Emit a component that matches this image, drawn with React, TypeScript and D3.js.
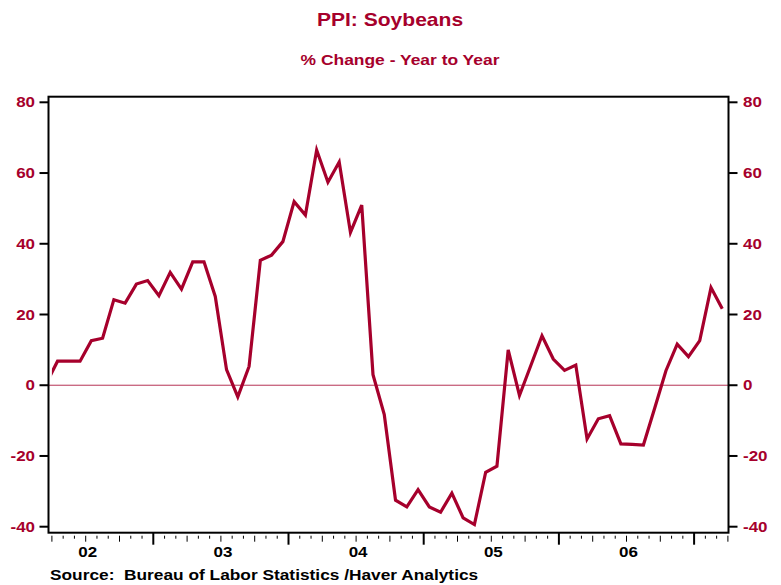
import React from "react";
import * as d3 from "d3";

// Monthly % change year to year, starting March 2002 (index 0) through March 2007
const startYear = 2002;
const startMonth = 2; // March (0-based)
const values = [
  0.5, 6.8, 6.8, 6.8, 12.6, 13.3, 24.2, 23.2, 28.6, 29.6,
  25.3, 31.9, 27.2, 34.9, 34.9, 25.1, 4.4, -3.3, 5.3, 35.3, 36.8, 40.6,
  51.9, 48.1, 66.5, 57.4, 63.1, 43.2, 50.9, 3.0, -8.3, -32.5, -34.4, -29.5,
  -34.4, -35.9, -30.5, -37.5, -39.4, -24.6, -22.9, 10.0, -2.9, 5.5, 14.0, 7.4,
  4.2, 5.7, -15.2, -9.5, -8.6, -16.6, -16.7, -16.9, -6.5, 4.1, 11.6, 8.1,
  12.6, 27.6, 21.6,
];
const yTicks = [-40, -20, 0, 20, 40, 60, 80];
const yearLabels = ["02", "03", "04", "05", "06"];
const title = "PPI: Soybeans";
const subtitle = "% Change - Year to Year";
const source = "Source:  Bureau of Labor Statistics /Haver Analytics";

const RED = "#a6002c";
const SX = 1.17;
const FONT = "'Liberation Sans', Arial, Helvetica, sans-serif";

function T({ x, y, anchor = "start", size = 15, fill = RED, children }: any) {
  return (
    <g transform={`translate(${x},${y}) scale(${SX},1)`}>
      <text
        textAnchor={anchor}
        fontSize={size}
        fontWeight="bold"
        fontFamily={FONT}
        fill={fill}
        style={{ whiteSpace: "pre" }}
      >
        {children}
      </text>
    </g>
  );
}

export default function App() {
  const W = 781;
  const H = 585;
  const frameL = 48.5;
  const frameR = 728.5;
  const frameT = 96.7;
  const frameB = 532.7;

  // months since Jan 2002
  const x = d3.scaleLinear().domain([3, 63]).range([51.9, 727.9]);
  const y = d3.scaleLinear().domain([-40, 80]).range([526.7, 102.3]);

  const pts = values.map((v, i) => ({
    m: (startYear - 2002) * 12 + startMonth + i + 0.5,
    v,
  }));
  const line = d3
    .line<{ m: number; v: number }>()
    .x((d) => x(d.m))
    .y((d) => y(d.v));

  const monthTicks = d3.range(3, 64);

  return (
    <div style={{ position: "absolute", left: 0, top: 0 }}>
      <svg width={W} height={H} style={{ display: "block", background: "#fff" }}>
        <defs>
          <clipPath id="plotclip">
            <rect x={x(3)} y={frameT} width={frameR - x(3)} height={frameB - frameT} />
          </clipPath>
        </defs>

        <T x={390} y={26} anchor="middle" size={18}>{title}</T>
        <T x={400} y={65} anchor="middle" size={14.9}>{subtitle}</T>

        {/* zero line */}
        <line x1={frameL} x2={frameR} y1={y(0)} y2={y(0)} stroke={RED} strokeWidth={1} opacity={0.8} />

        {/* data line */}
        <path
          d={line(pts) || ""}
          fill="none"
          stroke={RED}
          strokeWidth={3.2}
          strokeLinejoin="miter"
          clipPath="url(#plotclip)"
        />

        {/* frame */}
        <rect x={frameL} y={frameT} width={frameR - frameL} height={frameB - frameT} fill="none" stroke="#000" strokeWidth={2} />

        {/* y ticks left & right */}
        {yTicks.map((t) => (
          <g key={t}>
            <line x1={frameL - 9} x2={frameL} y1={y(t)} y2={y(t)} stroke="#000" strokeWidth={2} />
            <line x1={frameR} x2={frameR + 9} y1={y(t)} y2={y(t)} stroke="#000" strokeWidth={2} />
            <T x={35} y={y(t) + 5} anchor="end" size={14.5}>{String(t)}</T>
            <T x={743} y={y(t) + 5} anchor="start" size={14.5}>{String(t)}</T>
          </g>
        ))}

        {/* x ticks */}
        {monthTicks.map((m) => {
          const isYear = m % 12 === 0;
          const isQ = m % 3 === 0;
          const y1 = isYear ? frameB : frameB + 3;
          const y2 = isYear ? frameB + 12 : isQ ? frameB + 9 : frameB + 6;
          return (
            <line
              key={m}
              x1={x(m)}
              x2={x(m)}
              y1={y1}
              y2={y2}
              stroke="#000"
              strokeWidth={isYear ? 2 : 1}
            />
          );
        })}

        {yearLabels.map((lab, i) => (
          <T key={lab} x={x(i * 12 + 6) + 2} y={557} anchor="middle" size={14.5} fill="#000">
            {lab}
          </T>
        ))}

        <T x={50} y={580} anchor="start" size={14.8} fill="#000">{source}</T>
      </svg>
    </div>
  );
}
